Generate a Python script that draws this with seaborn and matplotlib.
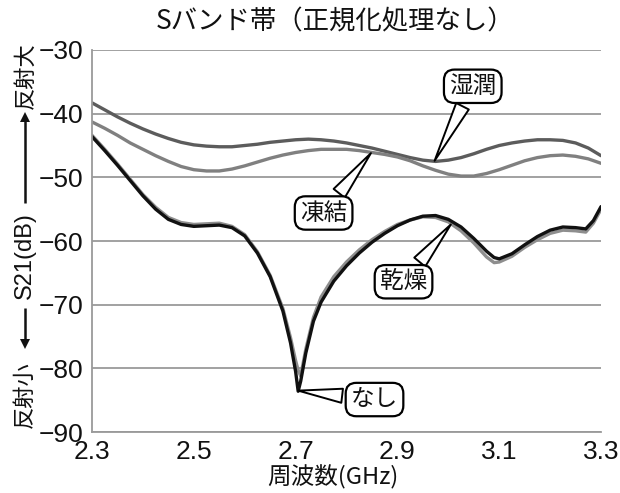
import matplotlib
matplotlib.use("Agg")
import matplotlib.pyplot as plt
from matplotlib.lines import Line2D
import seaborn as sns
import pandas as pd

# Frequency grid (GHz) for the two upper curves
freq_upper = [2.300, 2.325, 2.350, 2.375, 2.400, 2.425, 2.450, 2.475, 2.500, 2.525,
              2.550, 2.575, 2.600, 2.625, 2.650, 2.675, 2.700, 2.725, 2.750, 2.775,
              2.800, 2.825, 2.850, 2.875, 2.900, 2.925, 2.950, 2.975, 3.000, 3.025,
              3.050, 3.075, 3.100, 3.125, 3.150, 3.175, 3.200, 3.225, 3.250, 3.275, 3.300]
s21_wet = [-38.3, -39.4, -40.5, -41.5, -42.4, -43.2, -43.9, -44.5, -44.9, -45.1,
           -45.2, -45.2, -45.0, -44.8, -44.5, -44.3, -44.1, -44.0, -44.1, -44.3,
           -44.6, -45.0, -45.4, -45.9, -46.4, -46.9, -47.3, -47.5, -47.3, -46.9,
           -46.3, -45.6, -45.0, -44.6, -44.3, -44.1, -44.1, -44.2, -44.6, -45.4, -46.6]
s21_frozen = [-41.3, -42.3, -43.4, -44.6, -45.6, -46.6, -47.5, -48.3, -48.8, -49.0,
              -49.0, -48.7, -48.2, -47.6, -47.0, -46.5, -46.1, -45.8, -45.6, -45.6,
              -45.6, -45.8, -46.1, -46.4, -46.8, -47.4, -48.2, -48.9, -49.5, -49.8,
              -49.8, -49.4, -48.8, -48.1, -47.4, -46.9, -46.6, -46.5, -46.7, -47.1, -47.8]

# Frequency grid (GHz) for the two lower curves (denser around the notch)
freq_lower = [2.300, 2.325, 2.350, 2.375, 2.400, 2.425, 2.450, 2.475, 2.500, 2.525,
              2.550, 2.575, 2.600, 2.625, 2.650, 2.675,
              2.690, 2.700, 2.705, 2.710, 2.720, 2.735,
              2.750, 2.775, 2.800, 2.825, 2.850, 2.875, 2.900, 2.925, 2.950, 2.975,
              3.000, 3.025, 3.050, 3.075,
              3.090, 3.100, 3.125, 3.150, 3.175, 3.200, 3.225, 3.250, 3.270, 3.285, 3.300]
s21_dry = [-43.4, -45.6, -47.9, -50.3, -52.7, -54.7, -56.3, -57.1, -57.4, -57.3,
           -57.2, -57.7, -59.0, -61.7, -65.4, -70.6,
           -75.2, -78.8, -80.3, -81.2, -77.0, -72.0,
           -68.8, -65.6, -63.3, -61.4, -59.8, -58.5, -57.4, -56.7, -56.2, -56.3,
           -57.0, -58.4, -60.3, -62.5,
           -63.4, -63.3, -62.4, -61.0, -59.8, -58.8, -58.3, -58.4, -58.6, -57.2, -55.0]
s21_none = [-43.6, -45.8, -48.1, -50.5, -52.9, -55.0, -56.6, -57.4, -57.7, -57.6,
            -57.5, -57.9, -59.2, -61.9, -65.6, -71.0,
            -76.0, -80.5, -83.6, -82.0, -77.6, -72.6,
            -69.6, -66.3, -63.9, -61.9, -60.2, -58.8, -57.6, -56.7, -56.1, -56.0,
            -56.6, -57.8, -59.6, -61.6,
            -62.6, -62.8, -62.0, -60.6, -59.3, -58.3, -57.8, -57.9, -58.1, -56.8, -54.6]

states = ["湿潤", "凍結", "乾燥", "なし"]
colors = ["#5c5c5c", "#808080", "#8e8e8e", "#111111"]

x_ticks = [2.3, 2.5, 2.7, 2.9, 3.1, 3.3]
x_tick_labels = ["2.3", "2.5", "2.7", "2.9", "3.1", "3.3"]
y_ticks = [-30, -40, -50, -60, -70, -80, -90]
y_tick_labels = ["\u221230", "\u221240", "\u221250", "\u221260",
                 "\u221270", "\u221280", "\u221290"]

df = pd.concat([
    pd.DataFrame({"freq": freq_upper, "s21": s21_wet, "state": states[0]}),
    pd.DataFrame({"freq": freq_upper, "s21": s21_frozen, "state": states[1]}),
    pd.DataFrame({"freq": freq_lower, "s21": s21_dry, "state": states[2]}),
    pd.DataFrame({"freq": freq_lower, "s21": s21_none, "state": states[3]}),
], ignore_index=True)

sns.set_style("white")
plt.rcParams["font.family"] = ["Noto Sans CJK JP", "DejaVu Sans"]
num_font = ["Liberation Sans Narrow", "Liberation Sans", "DejaVu Sans"]
cjk_font = ["Noto Sans CJK JP", "DejaVu Sans"]
grid_col = "#9a9a9a"
ink = "#111111"

fig = plt.figure(figsize=(6.2, 4.93), dpi=100)
ax = fig.add_axes([0.1484, 0.1237, 0.8210, 0.7749])

sns.lineplot(data=df, x="freq", y="s21", hue="state", hue_order=states,
             palette=dict(zip(states, colors)), linewidth=2.4, legend=False,
             estimator=None, sort=True, ax=ax)
for line in ax.get_lines():
    line.set_solid_joinstyle("round")
    line.set_solid_capstyle("round")

ax.set_xlim(2.3, 3.3)
ax.set_ylim(-90, -30)
ax.set_xticks(x_ticks)
ax.set_xticklabels(x_tick_labels, family=num_font)
ax.set_yticks(y_ticks)
ax.set_yticklabels(y_tick_labels, family=num_font)
ax.yaxis.grid(True, color=grid_col, linewidth=1.3)
ax.xaxis.grid(False)
for side in ["top", "right"]:
    ax.spines[side].set_visible(False)
for side in ["left", "bottom"]:
    ax.spines[side].set_color(grid_col)
    ax.spines[side].set_linewidth(1.3)
ax.tick_params(axis="both", which="major", direction="out", length=5, width=1.2,
               color=grid_col, labelsize=19, pad=1, labelcolor=ink)
ax.set_xlabel("")
ax.set_ylabel("")

# Callout labels for each curve
def callout(text, xy, xytext):
    ax.annotate(text, xy=xy, xytext=xytext, textcoords="data",
                ha="center", va="center", fontsize=17, family=cjk_font, color=ink,
                bbox=dict(boxstyle="round,pad=0.22,rounding_size=0.45", fc="white",
                          ec="black", lw=1.6),
                arrowprops=dict(arrowstyle="wedge,tail_width=0.6,shrink_factor=0.5",
                                fc="white", ec="black", lw=1.4, shrinkB=0),
                zorder=10)

callout("湿潤", (2.973, -47.4), (3.048, -35.7))
callout("凍結", (2.848, -46.2), (2.755, -55.6))
callout("乾燥", (3.005, -57.4), (2.912, -66.4))
callout("なし", (2.705, -83.5), (2.855, -84.9))

# Title and horizontal caption
fig.text(0.540, 0.955, "Sバンド帯（正規化処理なし）", ha="center", va="center",
         fontsize=19, family=cjk_font, color=ink)
fig.text(0.537, 0.032, "周波数(GHz)", ha="center", va="center",
         fontsize=17, family=cjk_font, color=ink)

# Vertical caption: 反射小 <-- S21(dB) --> 反射大
yl_x = 0.040
fig.text(yl_x, 0.847, "反射大", rotation=90, ha="center", va="center",
         fontsize=16, family=cjk_font, color=ink)
fig.text(yl_x, 0.481, "S21(dB)", rotation=90, ha="center", va="center",
         fontsize=17, family=num_font, color=ink)
fig.text(yl_x, 0.199, "反射小", rotation=90, ha="center", va="center",
         fontsize=16, family=cjk_font, color=ink)
for y0, y1, head in [(0.588, 0.763, "^"), (0.376, 0.303, "v")]:
    fig.add_artist(Line2D([yl_x, yl_x], [y0, y1], transform=fig.transFigure,
                          color=ink, lw=1.8, solid_capstyle="butt"))
    fig.add_artist(Line2D([yl_x], [y1], transform=fig.transFigure, linestyle="none",
                          marker=head, markersize=7, color=ink, markeredgewidth=0))

fig.savefig("out.png", dpi=100)
